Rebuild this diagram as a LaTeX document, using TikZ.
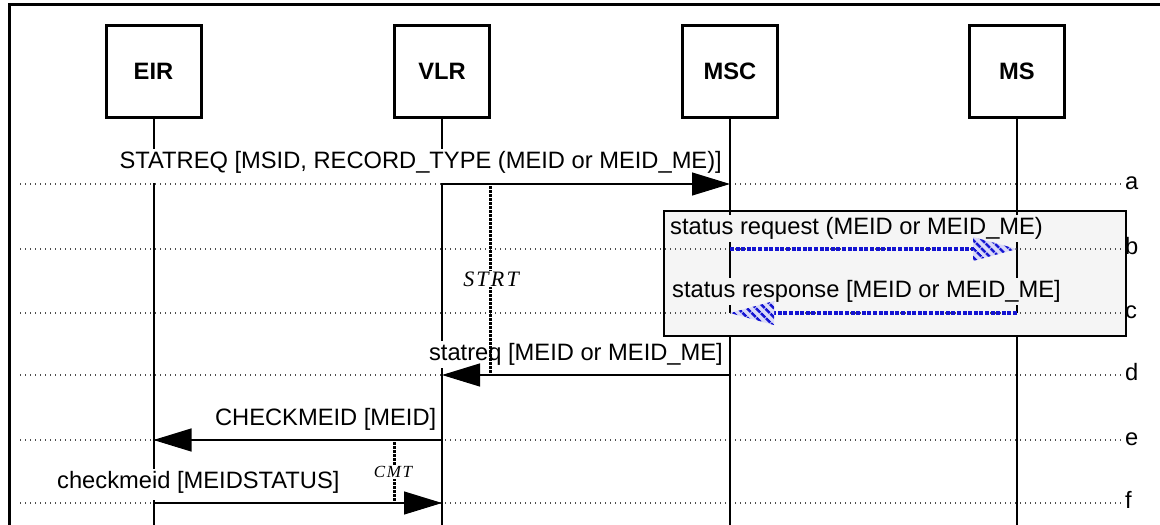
\documentclass[tikz,border=0pt]{standalone}
\usepackage{fontspec}
\setmainfont{Liberation Sans}
\newfontfamily\timerfont[LetterSpace=10]{Liberation Serif}
\usetikzlibrary{arrows.meta,calc,patterns.meta}
\definecolor{boxgray}{RGB}{245,245,245}
\definecolor{msgblue}{RGB}{20,20,210}
\definecolor{headbg}{RGB}{218,218,248}
\begin{document}
\begin{tikzpicture}[x=1pt,y=-1pt,
  lbl/.style={font=\fontsize{23.7}{28}\selectfont},
  actor/.style={lbl,draw,line width=3pt,fill=white,minimum width=95pt,minimum height=92pt,inner sep=0pt,font=\fontsize{23.7}{28}\selectfont\bfseries},
  lifeline/.style={line width=2pt},
  guide/.style={line width=1.3pt,black!70,dash pattern=on 1.4pt off 3.6pt},
  rowlab/.style={lbl,anchor=base west,inner sep=0pt},
  msglab/.style={lbl,inner xsep=2pt,inner ysep=2pt,fill=white,text depth=6pt},
  msg/.style={line width=1.2pt,-{Triangle[length=38pt,width=23pt]}},
  bluemsg/.style={line width=3.5pt,msgblue,dash pattern=on 4pt off 1.6pt},
  headfill/.style={fill=headbg,postaction={pattern={Lines[angle=-45,distance=6.5pt,line width=2.8pt]},pattern color=msgblue}},
  timer/.style={line width=3pt,dash pattern=on 2.5pt off 1.5pt},
  timerlab/.style={fill=white,inner sep=1pt}
]
\useasboundingbox (0,0) rectangle (1160,525);
% frame (cropped)
\draw[line width=3pt] (9,525) -- (9,4.5) -- (1160,4.5);
% group box
\node[draw,line width=2pt,fill=boxgray,minimum width=462pt,minimum height=125pt,inner sep=0pt] (grp) at (895,273.5) {};
% guide lines and row labels
\foreach \r/\y in {a/184,b/249,c/313,d/375,e/440,f/503}{
  \coordinate (g\r) at (20,\y);
  \node[rowlab] (l\r) at (1125,\y+5) {\r};
  \draw[guide] (g\r) -- ([xshift=-3pt]l\r.west |- g\r);
}
% actors
\node[actor] (eir) at (153.5,71.5) {EIR};
\node[actor] (vlr) at (442,71.5) {VLR};
\node[actor] (msc) at (730,71.5) {MSC};
\node[actor] (ms)  at (1017,71.5) {MS};
% lifeline coordinates
\foreach \n/\x in {eir/153.5,vlr/442,msc/730,ms/1017}{
  \foreach \r/\y in {a/184,b/249,c/313,d/375,e/440,f/503}{
    \coordinate (\n-\r) at (\x,\y);
  }
  \coordinate (\n-end) at (\x,525);
}
% lifelines
\draw[lifeline] (eir.south) -- (eir-end);
\draw[lifeline] (vlr.south) -- (vlr-end);
\draw[lifeline] (msc.south) -- (msc-c);
\draw[lifeline] (msc.south |- grp.south) -- (msc-end);
\draw[lifeline] (ms.south) -- (ms-c);
\draw[lifeline] (ms.south |- grp.south) -- (ms-end);
% message labels
\node[msglab,anchor=base east,inner xsep=7pt,text depth=13pt] (ma) at (729,168) {STATREQ [MSID, RECORD\_TYPE (MEID or MEID\_ME)]};
\node[msglab,anchor=base west,fill=boxgray] (mb) at (668,234) {status request (MEID or MEID\_ME)};
\node[msglab,anchor=base west,fill=boxgray] (mc) at (670,297) {status response [MEID or MEID\_ME]};
\node[msglab,anchor=base east] (md) at (725,360) {statreq [MEID or MEID\_ME]};
\node[msglab,anchor=base east] (me) at (438.5,425) {CHECKMEID [MEID]};
\node[msglab,anchor=base west,text depth=10pt] (mf) at (55,488) {checkmeid [MEIDSTATUS]};
% messages
\draw[msg] (vlr-a) -- (msc-a);
\draw[msg] (msc-d) -- (vlr-d);
\draw[msg] (vlr-e) -- (eir-e);
\draw[msg] (eir-f) -- (vlr-f);
\draw[bluemsg] (msc-b) -- ($(ms-b)+(-40,0)$);
\path[headfill] ($(ms-b)+(-44,-12)$) -- (ms-b) -- ($(ms-b)+(-44,12)$) -- cycle;
\draw[bluemsg] (ms-c) -- ($(msc-c)+(40,0)$);
\path[headfill] ($(msc-c)+(44,-12)$) -- (msc-c) -- ($(msc-c)+(44,12)$) -- cycle;
% timers
\coordinate (strt-top) at (490,186);
\coordinate (strt-bot) at (490,373);
\draw[timer] (strt-top) -- (strt-bot);
\node[timerlab,font=\timerfont\itshape\fontsize{22}{26}\selectfont] (strt) at (491,279) {STRT};
\coordinate (cmt-top) at (394,442);
\coordinate (cmt-bot) at (394,503);
\draw[timer] (cmt-top) -- (cmt-bot);
\node[timerlab,font=\timerfont\itshape\fontsize{17}{20}\selectfont] (cmt) at (393,472) {CMT};
\end{tikzpicture}
\end{document}
